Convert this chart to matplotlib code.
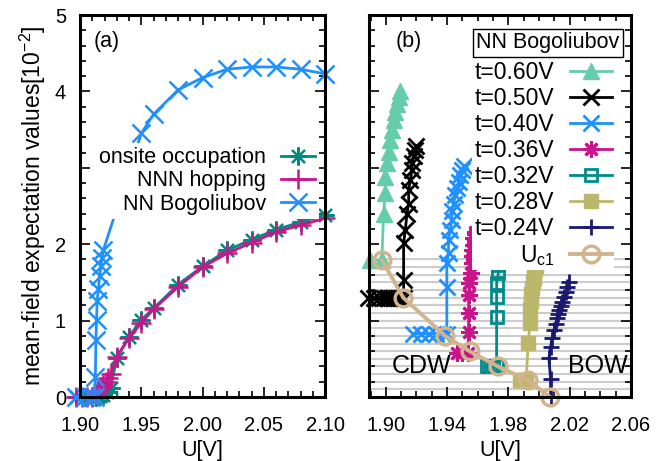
import numpy as np
import matplotlib
matplotlib.use('Agg')
import matplotlib.pyplot as plt

plt.rcParams['font.family'] = ['Liberation Sans', 'DejaVu Sans']
plt.rcParams['mathtext.fontset'] = 'custom'
plt.rcParams['mathtext.rm'] = 'Liberation Sans'

# ---- panel (a) data ----
onsite_x = [1.8965, 1.904, 1.910, 1.913, 1.916, 1.919, 1.922, 1.925,
            1.93, 1.94, 1.95, 1.96, 1.98, 2.00, 2.02, 2.04, 2.06, 2.08, 2.10]
onsite_y = [0, 0, 0, 0, 0.01, 0.03, 0.06, 0.12,
            0.51, 0.79, 1.01, 1.16, 1.47, 1.71, 1.92, 2.06, 2.19, 2.29, 2.38]

nnn_x = [1.8965, 1.902, 1.906, 1.910, 1.913, 1.915, 1.917, 1.919, 1.921, 1.923, 1.925,
         1.93, 1.94, 1.95, 1.96, 1.98, 2.00, 2.02, 2.04, 2.06, 2.08, 2.10]
nnn_y = [0, 0, 0, 0, 0.03, 0.08, 0.12, 0.16, 0.20, 0.25, 0.30,
         0.53, 0.77, 0.97, 1.15, 1.44, 1.70, 1.88, 2.02, 2.16, 2.25, 2.34]

bogo_x = [1.8965, 1.904, 1.909, 1.912, 1.9125, 1.913, 1.9135, 1.914, 1.915, 1.916,
          1.917, 1.918, 1.919, 1.95, 1.96, 1.98, 2.00, 2.02, 2.04, 2.06, 2.08, 2.10]
bogo_y = [0, 0, 0, 0, 0.26, 0.75, 1.01, 1.26, 1.41, 1.58,
          1.71, 1.82, 1.92, 3.45, 3.70, 4.02, 4.18, 4.29, 4.32, 4.32, 4.29, 4.23]

# ---- panel (b) data: NN Bogoliubov for several t ----
t060_x = [1.8898, 1.8974, 1.8985, 1.8996, 1.8996, 1.9007, 1.9018, 1.9028, 1.9039,
          1.9050, 1.9060, 1.9072, 1.9083, 1.9094]
t060_y = [1.79, 1.79, 2.40, 2.67, 2.88, 3.06, 3.21, 3.36, 3.49, 3.63, 3.73, 3.84, 3.93, 4.00]

t050_x = [1.8885, 1.8925, 1.8955, 1.899, 1.9005, 1.902, 1.9035, 1.905, 1.9065, 1.908,
          1.9095, 1.9116, 1.9116, 1.9116, 1.9127, 1.9138, 1.9149, 1.9149, 1.916, 1.917,
          1.917, 1.9182, 1.9192, 1.920]
t050_y = [1.29, 1.29, 1.29, 1.29, 1.29, 1.29, 1.29, 1.29, 1.29, 1.29,
          1.29, 1.29, 1.53, 2.01, 2.19, 2.40, 2.53, 2.71, 2.84, 2.97,
          3.06, 3.15, 3.23, 3.28]

t040_x = [1.918, 1.923, 1.928, 1.933, 1.937, 1.9398, 1.9398, 1.9398, 1.9409, 1.9409,
          1.942, 1.9431, 1.9431, 1.9442, 1.9453, 1.9464, 1.9475, 1.9486, 1.9497, 1.9508]
t040_y = [0.83, 0.83, 0.83, 0.83, 0.83, 0.83, 1.44, 1.75, 1.88, 2.05,
          2.19, 2.32, 2.43, 2.53, 2.64, 2.73, 2.82, 2.91, 2.97, 3.02]

t036_x = [1.9465, 1.950, 1.9535, 1.954, 1.954, 1.954, 1.9545, 1.9555, 1.9561, 1.9561,
          1.9561, 1.9572, 1.9572, 1.9583, 1.9583]
t036_y = [0.57, 0.57, 0.57, 0.85, 1.10, 1.34, 1.49, 1.62, 1.75, 1.84,
          1.93, 1.99, 2.08, 2.16, 2.14]

t032_x = [1.966, 1.968, 1.970, 1.9723, 1.9723, 1.9723, 1.9723, 1.9734, 1.9734,
          1.9745, 1.9756, 1.9756]
t032_y = [0.40, 0.40, 0.40, 0.40, 1.05, 1.31, 1.49, 1.62, 1.73, 1.84, 1.95, 2.05]

t028_x = [1.9875, 1.989, 1.9905, 1.9915, 1.9930, 1.9940, 1.9940, 1.9945, 1.995, 1.9955,
          1.996, 1.9965, 1.997, 1.9975, 1.998, 1.9985, 1.999, 1.999]
t028_y = [0.22, 0.22, 0.22, 0.22, 0.71, 0.97, 1.15, 1.26, 1.35, 1.43,
          1.50, 1.56, 1.62, 1.67, 1.72, 1.77, 1.81, 1.85]

t024_x = [2.0075, 2.0075, 2.0064, 2.0075, 2.0087, 2.0097, 2.0108, 2.0119, 2.0123,
          2.0130, 2.0141, 2.0152, 2.0163, 2.0174, 2.0185, 2.0196]
t024_y = [0.0, 0.24, 0.51, 0.66, 0.77, 0.88, 0.96, 1.03, 1.09,
          1.14, 1.19, 1.25, 1.31, 1.38, 1.44, 1.51]

uc1_x = [1.8975, 1.9114, 1.9387, 1.9546, 1.9732, 1.9927, 2.0071]
uc1_y = [1.79, 1.30, 0.80, 0.60, 0.40, 0.22, 0.0]

# horizontal grey lines marking the CDW region
cdw_levels = np.arange(0.1, 1.85, 0.1)

asterisk = (8, 2, 0)

fig = plt.figure(figsize=(6.64, 4.61), dpi=100)
ax1 = fig.add_axes([0.1205, 0.1388, 0.369, 0.8286])
ax2 = fig.add_axes([0.5557, 0.1388, 0.3946, 0.8286])


def style_axes(ax):
    for s in ax.spines.values():
        s.set_linewidth(2.2)
    ax.tick_params(which='both', direction='in', top=True, right=True, width=1.2)
    ax.tick_params(which='major', length=7, labelsize=14.5, pad=10)
    ax.tick_params(axis='x', which='major', pad=14)
    ax.tick_params(which='minor', length=4.5)
    ax.set_ylim(0, 5)
    ax.set_yticks([0, 1, 2, 3, 4, 5])
    ax.set_yticks(np.arange(0, 5.01, 0.2), minor=True)


# panel (a)
ax1.plot(onsite_x, onsite_y, color='#008b80', marker=asterisk, ms=13, mew=1.6,
         lw=2, label='onsite occupation', clip_on=False)
ax1.plot(nnn_x, nnn_y, color='#c8168a', marker='+', ms=14, mew=1.8,
         lw=2, label='NNN hopping', clip_on=False)
ax1.plot(bogo_x, bogo_y, color='#1e90ff', marker='x', ms=13, mew=1.8,
         lw=2, label='NN Bogoliubov', clip_on=False)
style_axes(ax1)
ax1.set_yticklabels(['0', '1', '2', '', '4', '5'])
ax1.set_xlim(1.90, 2.10)
ax1.set_xticks([1.90, 1.95, 2.00, 2.05, 2.10])
ax1.set_xticklabels(['1.90', '1.95', '2.00', '2.05', '2.10'])
ax1.set_xticks(np.arange(1.90, 2.101, 0.01), minor=True)
ax1.set_xlabel('U[V]', fontsize=15.5, labelpad=3)
ax1.set_ylabel('mean-field expectation values[10$^{\\mathregular{-2}}$]', fontsize=16.5, labelpad=5)
ax1.text(0.055, 0.915, '(a)', transform=ax1.transAxes, fontsize=15.5)
leg1 = ax1.legend(loc='upper right', bbox_to_anchor=(0.975, 0.665), markerfirst=False,
                  fontsize=15.5, handlelength=1.55, handletextpad=0.7, labelspacing=0.1,
                  borderpad=0.2, borderaxespad=0, frameon=True, fancybox=False,
                  framealpha=1, facecolor='white', edgecolor='none')

# panel (b)
for lev in cdw_levels:
    ax2.axhline(lev, color='#cccccc', lw=1.5, zorder=0)
ax2.plot(t060_x, t060_y, color='#66cdaa', marker='^', ms=11, lw=2, label='t=0.60V', clip_on=False)
ax2.plot(t050_x, t050_y, color='black', marker='x', ms=11, mew=2, lw=2, label='t=0.50V', clip_on=False)
ax2.plot(t040_x, t040_y, color='#1e90ff', marker='x', ms=11, mew=2, lw=2, label='t=0.40V', clip_on=False)
ax2.plot(t036_x, t036_y, color='#c8168a', marker=asterisk, ms=12, mew=2, lw=2, label='t=0.36V', clip_on=False)
ax2.plot(t032_x, t032_y, color='#008b8b', marker='s', ms=8.5, mew=2, mfc='none', lw=2,
         label='t=0.32V', clip_on=False)
ax2.plot(t028_x, t028_y, color='#bdb76b', marker='s', ms=10.5, lw=2, label='t=0.28V', clip_on=False)
ax2.plot(t024_x, t024_y, color='#191970', marker='+', ms=11, mew=2, lw=2, label='t=0.24V', clip_on=False)
ax2.plot(uc1_x, uc1_y, color='#d2b48c', marker='o', ms=12, mew=2.5, mfc='none', lw=2.8,
         label='U$_{\\mathregular{c1}}$', clip_on=False)
style_axes(ax2)
ax2.set_yticklabels([])
ax2.set_xlim(1.889, 2.06)
ax2.set_xticks([1.90, 1.94, 1.98, 2.02, 2.06])
ax2.set_xticklabels(['1.90', '1.94', '1.98', '2.02', '2.06'])
ax2.set_xticks(np.arange(1.89, 2.061, 0.01), minor=True)
ax2.set_xlabel('U[V]', fontsize=15.5, labelpad=3)
ax2.text(0.10, 0.915, '(b)', transform=ax2.transAxes, fontsize=15.5)
ax2.text(1.9234, 0.40, 'CDW', fontsize=18, ha='center', va='center')
ax2.text(2.0382, 0.40, 'BOW', fontsize=18, ha='center', va='center')
ax2.text(0.683, 0.927, 'NN Bogoliubov', transform=ax2.transAxes, fontsize=15.5,
         ha='center', va='center',
         bbox=dict(boxstyle='square,pad=0.15', fc='white', ec='black', lw=1))
leg2 = ax2.legend(loc='upper right', bbox_to_anchor=(0.935, 0.885), markerfirst=False,
                  fontsize=16.5, handlelength=1.8, handletextpad=0.7, labelspacing=0.13,
                  borderpad=0.1, borderaxespad=0, frameon=True, fancybox=False,
                  framealpha=1, facecolor='white', edgecolor='none')

plt.savefig('out.png', dpi=100)
